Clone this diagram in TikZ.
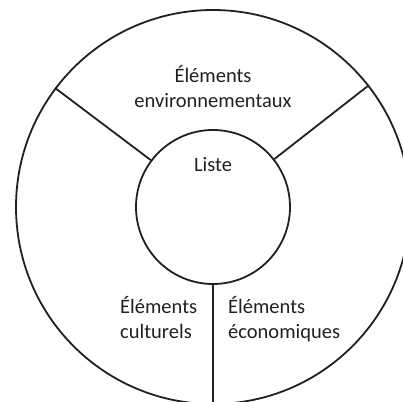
\documentclass[tikz,border=0pt]{standalone}
\usepackage{fontspec}
\setmainfont{Carlito}
\definecolor{ink}{HTML}{231F20}
\begin{document}
\begin{tikzpicture}[x=1pt,y=-1pt,
  ring/.style={draw=ink,line width=1.8pt,circle,inner sep=0pt},
  spoke/.style={draw=ink,line width=1.8pt},
  lbl/.style={text=ink,font=\fontsize{20.5}{24.5}\selectfont,inner sep=0pt}]
\useasboundingbox (0,0) rectangle (403,401);
\node[ring,minimum size=394pt] (outer) at (213,207) {};
\node[ring,minimum size=154pt] (inner) at (213,207) {};
\draw[spoke] (inner.143) -- (outer.143);
\draw[spoke] (inner.38) -- (outer.38);
\draw[spoke] (inner.270) -- (outer.270);
\node[lbl,align=center,anchor=base] (env) at (213,107) {Éléments\\environnementaux};
\node[lbl,anchor=base] (liste) at (213,171) {Liste};
\node[lbl,align=left,anchor=base west] (cult) at (120,338) {Éléments\\culturels};
\node[lbl,align=left,anchor=base west] (eco) at (228,338) {Éléments\\économiques};
\end{tikzpicture}
\end{document}
